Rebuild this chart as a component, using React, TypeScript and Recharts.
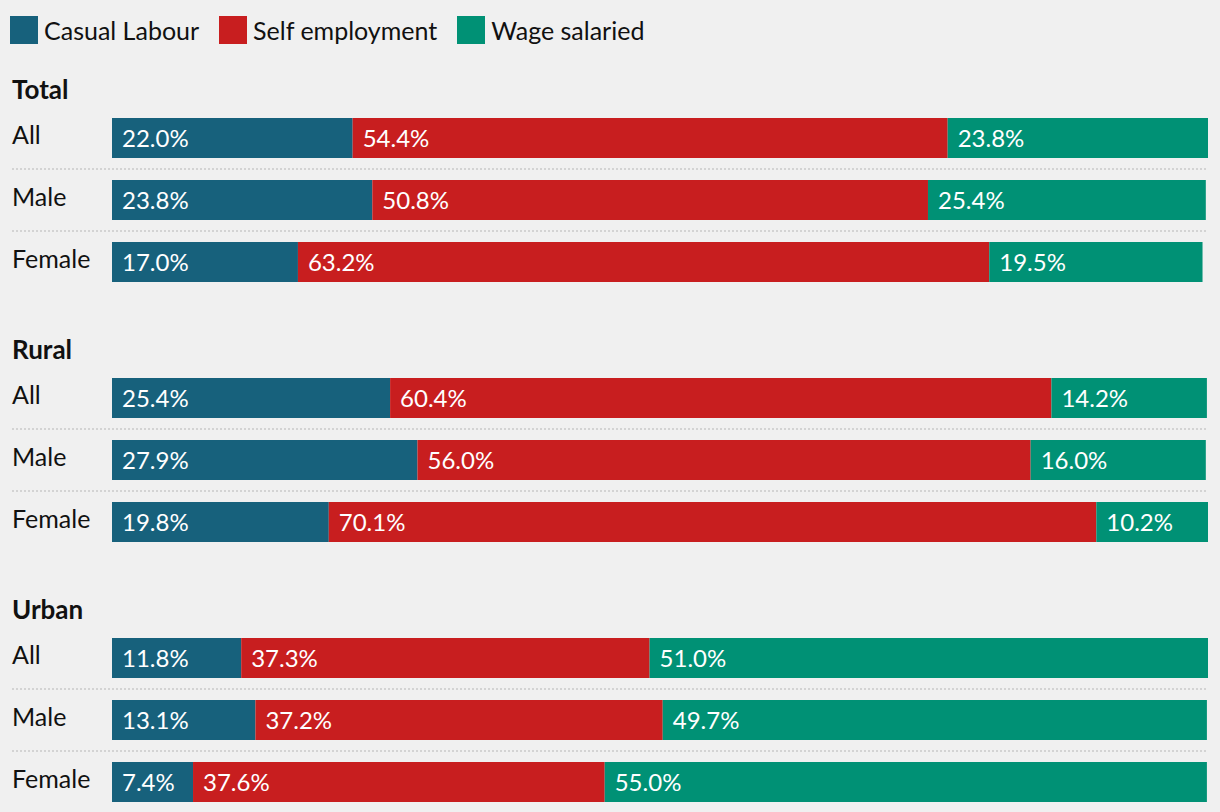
import { BarChart, Bar, XAxis, YAxis, LabelList } from "recharts";

const ROWS = ["All", "Male", "Female"];
const SERIES = ["Casual Labour", "Self employment", "Wage salaried"];
const KEYS = ["casual", "self", "wage"];
const COLORS = ["#17617c", "#c81e1f", "#009175"];

const totalCasual = [22.0, 23.8, 17.0];
const totalSelf = [54.4, 50.8, 63.2];
const totalWage = [23.8, 25.4, 19.5];

const ruralCasual = [25.4, 27.9, 19.8];
const ruralSelf = [60.4, 56.0, 70.1];
const ruralWage = [14.2, 16.0, 10.2];

const urbanCasual = [11.8, 13.1, 7.4];
const urbanSelf = [37.3, 37.2, 37.6];
const urbanWage = [51.0, 49.7, 55.0];

const GROUPS = [
  { title: "Total", values: [totalCasual, totalSelf, totalWage] },
  { title: "Rural", values: [ruralCasual, ruralSelf, ruralWage] },
  { title: "Urban", values: [urbanCasual, urbanSelf, urbanWage] },
];

const FONT = "Lato, sans-serif";
const ROW_H = 62;

function RowTick(props: any) {
  const { y, payload, index } = props;
  return (
    <g>
      {index > 0 && (
        <line
          x1={12}
          x2={1208}
          y1={y - ROW_H / 2}
          y2={y - ROW_H / 2}
          stroke="#d3d3d3"
          strokeWidth={2}
          strokeDasharray="2 2"
        />
      )}
      <text x={12} y={y - 4} dominantBaseline="central" fontSize={25} fill="#111" fontFamily={FONT}>
        {payload.value}
      </text>
    </g>
  );
}

function GroupChart({ values }: { values: number[][] }) {
  const data = ROWS.map((row, i) => {
    const d: any = { row };
    KEYS.forEach((k, s) => (d[k] = values[s][i]));
    return d;
  });
  return (
    <BarChart
      width={1220}
      height={ROW_H * ROWS.length}
      data={data}
      layout="vertical"
      margin={{ top: 0, right: 12, bottom: 0, left: 0 }}
      barSize={40}
    >
      <XAxis type="number" domain={[0, 100]} hide />
      <YAxis
        type="category"
        dataKey="row"
        width={112}
        axisLine={false}
        tickLine={false}
        tick={<RowTick />}
        interval={0}
      />
      {KEYS.map((k, s) => (
        <Bar key={k} dataKey={k} stackId="a" fill={COLORS[s]} isAnimationActive={false}>
          <LabelList
            dataKey={k}
            position="insideLeft"
            offset={10}
            fill="#fff"
            fontSize={24}
            fontFamily={FONT}
            formatter={(v: any) => `${Number(v).toFixed(1)}%`}
          />
        </Bar>
      ))}
    </BarChart>
  );
}

export default function App() {
  return (
    <div
      style={{
        width: 1220,
        height: 812,
        background: "#f0f0f0",
        position: "relative",
        overflow: "hidden",
        fontFamily: FONT,
        color: "#111",
      }}
    >
      <style>{"body{margin:0}"}</style>
      <div style={{ position: "absolute", top: 16, left: 10, display: "flex", alignItems: "center" }}>
        {SERIES.map((name, i) => (
          <div key={name} style={{ display: "flex", alignItems: "center", marginRight: 20 }}>
            <div style={{ width: 28, height: 28, background: COLORS[i], marginRight: 6 }} />
            <span style={{ fontSize: 25, lineHeight: "28px" }}>{name}</span>
          </div>
        ))}
      </div>
      {GROUPS.map((g, gi) => (
        <div key={g.title}>
          <div
            style={{
              position: "absolute",
              left: 12,
              top: 74 + gi * 260,
              fontSize: 26,
              fontWeight: 700,
              lineHeight: "30px",
            }}
          >
            {g.title}
          </div>
          <div style={{ position: "absolute", left: 0, top: 107 + gi * 260 }}>
            <GroupChart values={g.values} />
          </div>
        </div>
      ))}
    </div>
  );
}
